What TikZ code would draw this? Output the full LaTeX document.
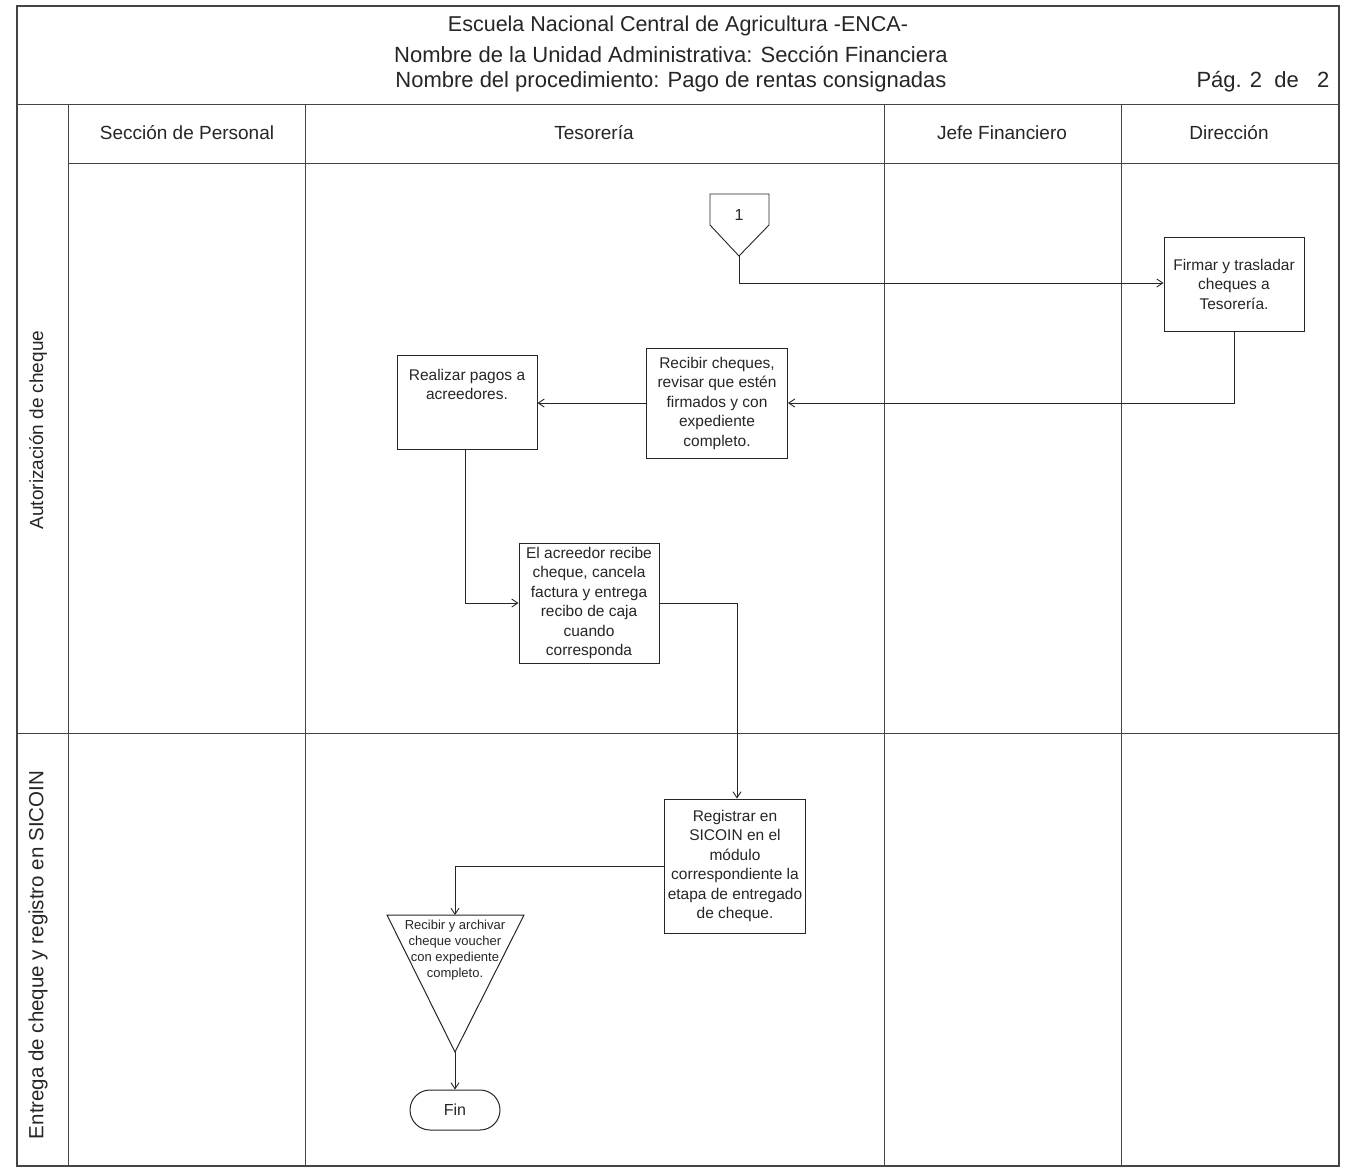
\documentclass[tikz,border=0pt]{standalone}
\usepackage{fontspec}
\setmainfont{Liberation Sans}
\usetikzlibrary{arrows.meta}
\definecolor{ink}{HTML}{262626}
\definecolor{rule}{HTML}{444444}
\tikzset{
  frame/.style={draw=rule, line width=1.3pt},
  grid/.style={draw=rule, line width=1pt},
  flow/.style={draw=ink, line width=0.9pt, -{Straight Barb[length=6pt,width=8pt]}},
  plain/.style={draw=ink, line width=0.9pt},
  task/.style={draw=ink, line width=1pt, fill=white, align=center, inner sep=1pt,
    font=\fontsize{15.5}{19.5}\selectfont, text=ink},
  title/.style={font=\fontsize{22}{24}\selectfont, text=ink},
  lanehead/.style={font=\fontsize{19}{21}\selectfont, text=ink},
  phase/.style={text=ink, rotate=90},
}
\begin{document}
\begin{tikzpicture}[x=1pt, y=-1pt]
\useasboundingbox (0,0) rectangle (1345,1168);
\fill[white] (0,0) rectangle (1345,1168);

% outer frame and table rules
\draw[frame] (17,6) rectangle (1339,1166);
\draw[grid] (17,104) -- (1339,104);
\draw[grid] (68,163) -- (1339,163);
\draw[grid] (17,733) -- (1339,733);
\draw[grid] (68,104) -- (68,1166);
\draw[grid] (305,104) -- (305,1166);
\draw[grid] (884,104) -- (884,1166);
\draw[grid] (1121,104) -- (1121,1166);

% heading
\node[title, font=\fontsize{21.5}{24}\selectfont] (t1) at (678,26) {Escuela Nacional Central de Agricultura -ENCA-};
\node[title] (t2) at (671,55) {Nombre de la Unidad Administrativa: Sección Financiera};
\node[title] (t3) at (671,82) {Nombre del procedimiento: Pago de rentas consignadas};
\node[title] (pg) at (1263,82) {Pág. 2\ \ de\ \ \ 2};

% lane headings
\node[lanehead] (h1) at (187,133) {Sección de Personal};
\node[lanehead] (h2) at (594,133) {Tesorería};
\node[lanehead] (h3) at (1002,133) {Jefe Financiero};
\node[lanehead] (h4) at (1229,133) {Dirección};

% phase labels
\node[phase, font=\fontsize{19}{21}\selectfont] (p1) at (38,430) {Autorización de cheque};
\node[phase, font=\fontsize{20.5}{23}\selectfont] (p2) at (38,955) {Entrega de cheque y registro en SICOIN};

% off-page connector 1
\draw[plain] (710,194) -- (769,194) -- (769,225) -- (739,256) -- (710,225) -- cycle;
\node[font=\fontsize{16}{18}\selectfont, text=ink] (c1) at (739,215) {1};
\coordinate (c1tip) at (739,256);

% process steps
\node[task, minimum width=140pt, minimum height=94pt] (firmar) at (1234,284)
  {Firmar y trasladar\\cheques a\\Tesorería.};
\node[task, minimum width=141pt, minimum height=110pt] (recibir) at (717,403)
  {Recibir cheques,\\revisar que estén\\firmados y con\\expediente\\completo.};
\node[task, minimum width=140pt, minimum height=94pt] (realizar) at (467,402)
  {Realizar pagos a\\acreedores.\\[16pt]};
\node[task, minimum width=140pt, minimum height=120pt] (acreedor) at (589,603)
  {El acreedor recibe\\cheque, cancela\\factura y entrega\\recibo de caja\\cuando\\corresponda};
\node[task, minimum width=141pt, minimum height=134pt] (registrar) at (735,866)
  {Registrar en\\SICOIN en el\\módulo\\correspondiente la\\etapa de entregado\\de cheque.};

% archive (inverted triangle)
\draw[plain, line width=1pt] (387,915) -- (524,915) -- (455,1052) -- cycle;
\coordinate (archtop) at (455,915);
\coordinate (archtip) at (455,1052);
\node[align=center, text=ink, font=\fontsize{13}{15.8}\selectfont, inner sep=0pt] (archivo) at (455,950)
  {Recibir y archivar\\cheque voucher\\con expediente\\completo.};

% end terminal
\node[draw=ink, line width=1pt, rounded corners=20pt, minimum width=90pt, minimum height=40pt,
  text=ink, font=\fontsize{16}{18}\selectfont] (fin) at (455,1110) {Fin};

% connectors
\draw[flow] (c1tip) |- ([yshift=1pt]firmar.west);
\draw[flow] (firmar.south) |- (recibir.east);
\draw[flow] (recibir.west) -- (recibir.west -| realizar.east);
\draw[flow] ([xshift=-2pt]realizar.south) |- (acreedor.west);
\draw[flow] (acreedor.east) -| ([xshift=2pt]registrar.north);
\draw[flow] (registrar.west) -| (archtop);
\draw[flow] (archtip) -- (fin.north);
\end{tikzpicture}
\end{document}
